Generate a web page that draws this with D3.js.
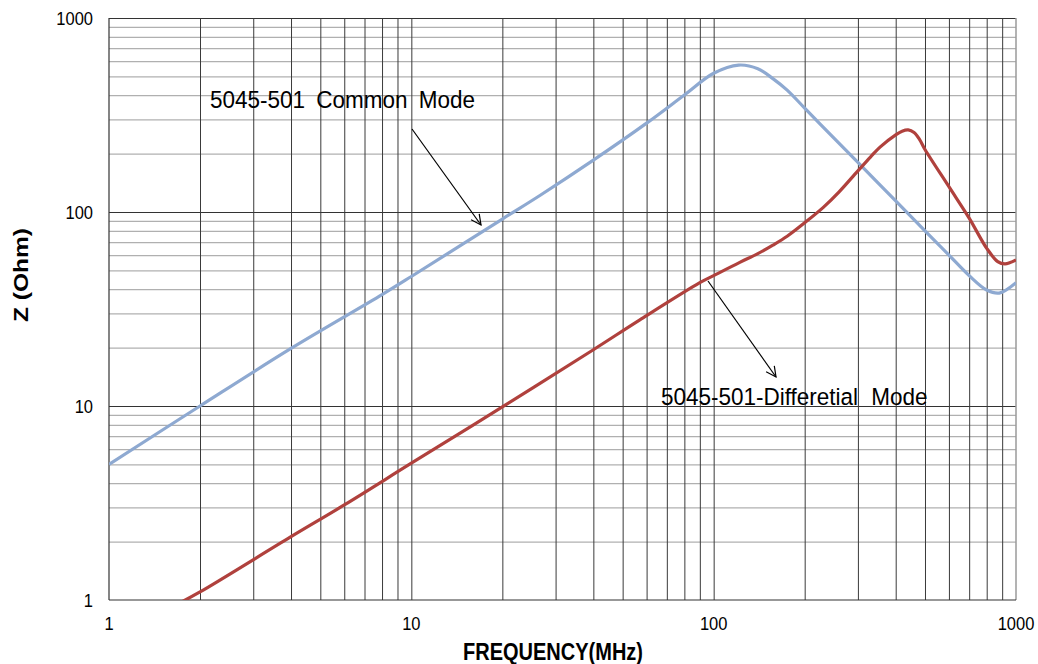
<!DOCTYPE html>
<html>
<head>
<meta charset="utf-8">
<script src="https://cdnjs.cloudflare.com/ajax/libs/d3/7.8.5/d3.min.js"></script>
<style>
  body { margin: 0; background: #fff; }
  text { font-family: Arial, "Liberation Sans", sans-serif; fill: #000; }
</style>
</head>
<body>
<div class="chart"></div>
<script>
// Common mode impedance curve (MHz, Ohm)
var cmFreq = [1, 2, 4, 8, 10, 20, 26.7, 40, 60, 80, 100, 121, 140, 157, 175, 200, 250, 300, 400, 500, 600, 700, 800, 880, 1000];
var cmZ    = [5.0, 10, 19.8, 37.5, 46.5, 92, 122, 185, 287, 401, 519, 572, 548, 487, 425, 343, 240, 180, 114, 80, 60, 47, 39.6, 38.2, 43.2];

// Differential mode impedance curve
var dmFreq = [1.7, 2, 4, 6, 10, 20, 40, 57, 90, 100, 122, 140, 157, 175, 200, 231, 260, 299, 330, 355, 400, 420, 440, 460, 480, 500, 600, 700, 800, 870, 920, 1000];
var dmZ    = [0.96, 1.10, 2.12, 3.09, 5.07, 9.9, 19.5, 27.8, 43.2, 47, 55, 61, 67.5, 75, 88, 106, 127, 162, 192, 216, 250, 261, 265, 257, 236, 210, 135, 93, 65, 55.5, 54, 56.6];

var xTicks = [1, 10, 100, 1000];
var yTicks = [1, 10, 100, 1000];

// canvas
var svgWidth = 1038;
var svgHeight = 664;
var margin = { top: 18, right: 22, bottom: 64, left: 109 };
var width = svgWidth - margin.left - margin.right;
var height = svgHeight - margin.top - margin.bottom;

var svg = d3.select(".chart")
  .append("svg")
  .attr("width", svgWidth)
  .attr("height", svgHeight);

var chartGroup = svg.append("g")
  .attr("transform", `translate(${margin.left}, ${margin.top})`);

var x = d3.scaleLog().domain([1, 1000]).range([0, width]);
var y = d3.scaleLog().domain([1, 1000]).range([height, 0]);

// minor values 2..9 per decade
var minor = [];
[1, 10, 100].forEach(function(d) {
  for (var i = 2; i <= 9; i++) minor.push(d * i);
});

// horizontal grid: light minor lines, dark decade lines
chartGroup.append("g")
  .call(d3.axisLeft(y).tickValues(minor).tickSize(-width).tickFormat(""))
  .call(g => g.select(".domain").remove())
  .selectAll("line")
  .attr("stroke", "#b0b0b0")
  .attr("stroke-width", 1.3);

chartGroup.append("g")
  .call(d3.axisLeft(y).tickValues([10, 100, 1000]).tickSize(-width).tickFormat(""))
  .call(g => g.select(".domain").remove())
  .selectAll("line")
  .attr("stroke", "#333")
  .attr("stroke-width", 1);

// vertical grid: all dark
chartGroup.append("g")
  .attr("transform", `translate(0, ${height})`)
  .call(d3.axisBottom(x).tickValues(minor.concat([10, 100])).tickSize(-height).tickFormat(""))
  .call(g => g.select(".domain").remove())
  .selectAll("line")
  .attr("stroke", "#3a3a3a")
  .attr("stroke-width", 1);

// frame
chartGroup.append("line")
  .attr("x1", width).attr("x2", width).attr("y1", 0).attr("y2", height)
  .attr("stroke", "#9a9a9a").attr("stroke-width", 1.5);
chartGroup.append("line")
  .attr("x1", 0).attr("x2", 0).attr("y1", 0).attr("y2", height)
  .attr("stroke", "#333").attr("stroke-width", 1.2);
chartGroup.append("line")
  .attr("x1", 0).attr("x2", width).attr("y1", height).attr("y2", height)
  .attr("stroke", "#333").attr("stroke-width", 1.2);

// tick labels (slightly tall, like the original)
chartGroup.selectAll(".xlab")
  .data(xTicks)
  .enter()
  .append("text")
  .attr("transform", d => `translate(${x(d)}, ${height + 30}) scale(1,1.15)`)
  .attr("text-anchor", "middle")
  .attr("font-size", 16.5)
  .text(d => d);

chartGroup.selectAll(".ylab")
  .data(yTicks)
  .enter()
  .append("text")
  .attr("transform", d => `translate(-16, ${y(d) + 6.5}) scale(1,1.15)`)
  .attr("text-anchor", "end")
  .attr("font-size", 16.5)
  .text(d => d);

// curves
chartGroup.append("clipPath")
  .attr("id", "plotClip")
  .append("rect")
  .attr("width", width)
  .attr("height", height);

var line = d3.line()
  .x(d => x(d[0]))
  .y(d => y(d[1]))
  .curve(d3.curveCatmullRom.alpha(0.5));

chartGroup.append("path")
  .datum(d3.zip(cmFreq, cmZ))
  .attr("clip-path", "url(#plotClip)")
  .attr("fill", "none")
  .attr("stroke", "#8EA9D1")
  .attr("stroke-width", 3.2)
  .attr("d", line);

chartGroup.append("path")
  .datum(d3.zip(dmFreq, dmZ))
  .attr("clip-path", "url(#plotClip)")
  .attr("fill", "none")
  .attr("stroke", "#B0413D")
  .attr("stroke-width", 3.2)
  .attr("d", line);

// annotations with open arrowheads
svg.append("defs").append("marker")
  .attr("id", "arrow")
  .attr("viewBox", "0 0 12 12")
  .attr("refX", 11)
  .attr("refY", 6)
  .attr("markerWidth", 12)
  .attr("markerHeight", 12)
  .attr("markerUnits", "userSpaceOnUse")
  .attr("orient", "auto")
  .append("path")
  .attr("d", "M1,1 L11,6 L1,11")
  .attr("fill", "none")
  .attr("stroke", "#000")
  .attr("stroke-width", 1.2);

svg.append("line")
  .attr("x1", 412).attr("y1", 129).attr("x2", 481).attr("y2", 225)
  .attr("stroke", "#000").attr("stroke-width", 1.2)
  .attr("marker-end", "url(#arrow)");

svg.append("line")
  .attr("x1", 708).attr("y1", 281).attr("x2", 776).attr("y2", 377)
  .attr("stroke", "#000").attr("stroke-width", 1.2)
  .attr("marker-end", "url(#arrow)");

svg.append("text")
  .attr("transform", "translate(210, 108) scale(1,1.05)")
  .attr("font-size", 22.5)
  .attr("word-spacing", 5)
  .text("5045-501 Common Mode");

svg.append("text")
  .attr("transform", "translate(661, 405) scale(1,1.08)")
  .attr("font-size", 22.5)
  .attr("word-spacing", 7)
  .text("5045-501-Differetial Mode");

// axis titles
svg.append("text")
  .attr("transform", "translate(553, 660) scale(1,1.15)")
  .attr("text-anchor", "middle")
  .attr("font-size", 20)
  .attr("font-weight", "bold")
  .text("FREQUENCY(MHz)");

svg.append("text")
  .attr("transform", "translate(28, 275) scale(1,1.17) rotate(-90)")
  .attr("text-anchor", "middle")
  .attr("font-size", 21)
  .attr("font-weight", "bold")
  .text("Z (Ohm)");
</script>
</body>
</html>
